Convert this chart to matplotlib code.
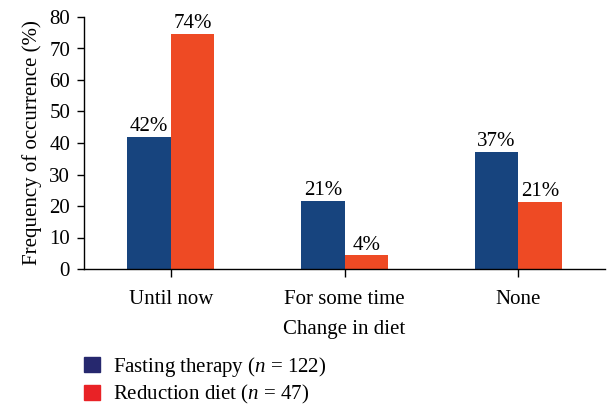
import matplotlib
matplotlib.use("Agg")
import matplotlib.pyplot as plt
from matplotlib.patches import Patch
import numpy as np

categories = ["Until now", "For some time", "None"]
fasting = [41.9, 21.7, 37.2]
reduction = [74.6, 4.4, 21.3]
fasting_labels = ["42%", "21%", "37%"]
reduction_labels = ["74%", "4%", "21%"]
series_names = ["Fasting therapy ($n$ = 122)", "Reduction diet ($n$ = 47)"]
yticks = [0, 10, 20, 30, 40, 50, 60, 70, 80]

plt.rcParams['font.family'] = ['Liberation Serif', 'DejaVu Serif']
plt.rcParams['mathtext.fontset'] = 'custom'
plt.rcParams['mathtext.it'] = 'Liberation Serif:italic'
plt.rcParams['mathtext.rm'] = 'Liberation Serif'

FS = 15
W, H = 607, 408
fig = plt.figure(figsize=(W/100, H/100), dpi=100)
left, right, top, bottom = 84, 605, 17, 269
ax = fig.add_axes([left/W, 1-bottom/H, (right-left)/W, (bottom-top)/H])

blue = "#17447e"
red = "#ee4a24"
x = np.arange(len(categories))
w = 0.25
b1 = ax.bar(x - w/2, fasting, w, color=blue)
b2 = ax.bar(x + w/2, reduction, w, color=red)

for rect, lab in zip(b1, fasting_labels):
    ax.text(rect.get_x()+rect.get_width()/2, rect.get_height()+0.2, lab,
            ha='center', va='bottom', fontsize=FS)
for rect, lab in zip(b2, reduction_labels):
    ax.text(rect.get_x()+rect.get_width()/2, rect.get_height()+0.2, lab,
            ha='center', va='bottom', fontsize=FS)

ax.set_xlim(-0.5, 2.5)
ax.set_ylim(0, 80)
ax.set_yticks(yticks)
ax.set_xticks(x)
ax.set_xticklabels(categories, fontsize=FS)
ax.tick_params(axis='y', labelsize=FS, length=5, width=1, pad=5)
ax.tick_params(axis='x', length=6, width=1, pad=9)
for s in ['top', 'right']:
    ax.spines[s].set_visible(False)
for s in ['left', 'bottom']:
    ax.spines[s].set_linewidth(1)
ax.set_ylabel("Frequency of occurrence (%)", fontsize=FS, labelpad=5)
ax.set_xlabel("Change in diet", fontsize=FS, labelpad=8)

handles = [Patch(color="#26286e"), Patch(color="#e92226")]
fig.legend(handles, series_names, loc='upper left',
           bbox_to_anchor=(84/W, 1-355/H), frameon=False, fontsize=FS,
           handlelength=0.77, handleheight=0.75, handletextpad=0.62,
           labelspacing=0.2, borderaxespad=0, borderpad=0)

fig.savefig("out.png", dpi=100)
